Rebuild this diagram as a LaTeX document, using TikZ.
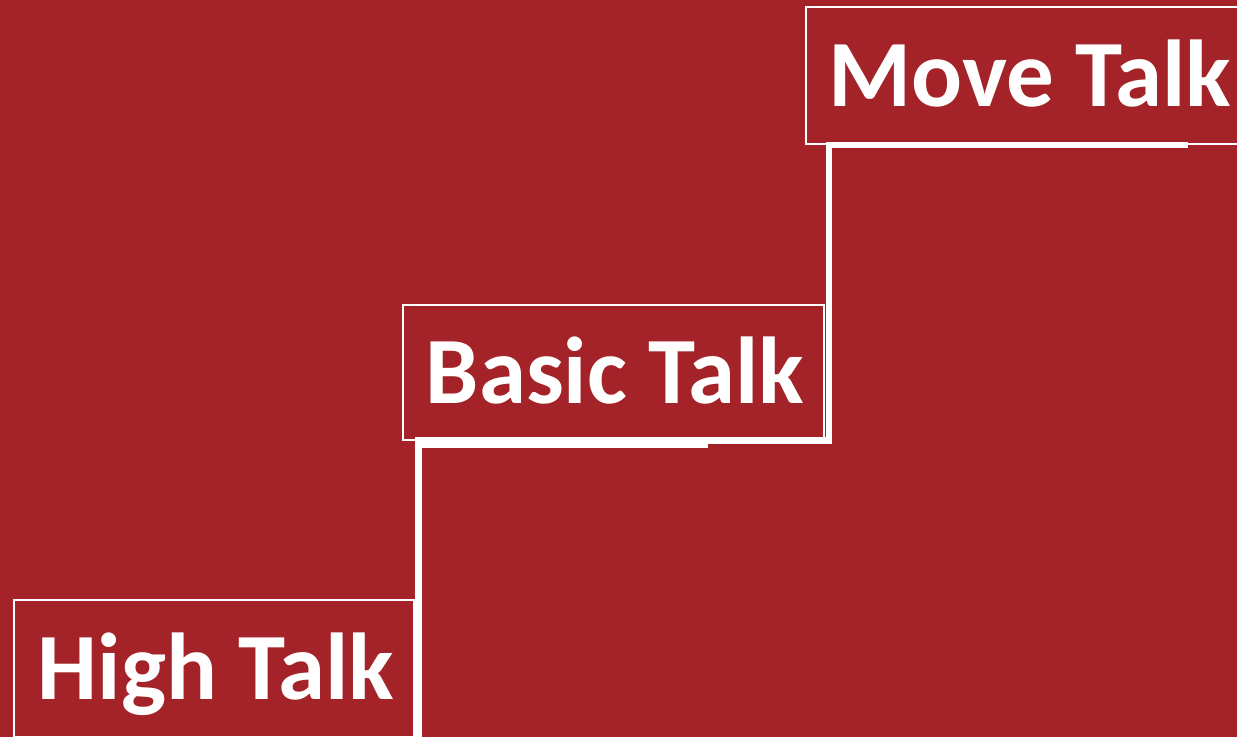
\documentclass[tikz,border=0pt]{standalone}
\usepackage{fontspec}
\setmainfont{Carlito}
\definecolor{bgred}{RGB}{164,35,41}
\begin{document}
\begin{tikzpicture}[x=1pt,y=-1pt,
  talkbox/.style={draw=white, line width=1.5pt, text=white, inner sep=0pt,
    font=\fontsize{95}{95}\selectfont\bfseries, text height=61pt, text depth=0pt},
  stair/.style={draw=white, line width=6.5pt, line cap=butt, line join=miter}]
\fill[bgred] (0,0) rectangle (1237,737);
\useasboundingbox (0,0) rectangle (1237,737);
\node[talkbox, minimum width=400pt, minimum height=137pt] (high) at (214,668.5) {\hspace*{4pt}High Talk};
\node[talkbox, minimum width=421pt, minimum height=135pt] (basic) at (613.5,372.5) {\hspace*{3pt}Basic Talk};
\node[talkbox, minimum width=444pt, minimum height=137pt] (move) at (1028,75.5) {\hspace*{4pt}Move Talk};
\coordinate (s0) at ([xshift=3.5pt]high.south east);
\coordinate (s1) at ([xshift=4pt]basic.south east);
\coordinate (s2) at ([xshift=383pt]move.south west);
\draw[stair] (s0) |- ([yshift=0.5pt]s1) -- (s1 |- move.south) -- (s2);
\draw[white, line width=8pt] ([yshift=-3pt]s0 |- basic.south) -- ([xshift=306pt,yshift=-3pt]basic.south west);
\end{tikzpicture}
\end{document}
